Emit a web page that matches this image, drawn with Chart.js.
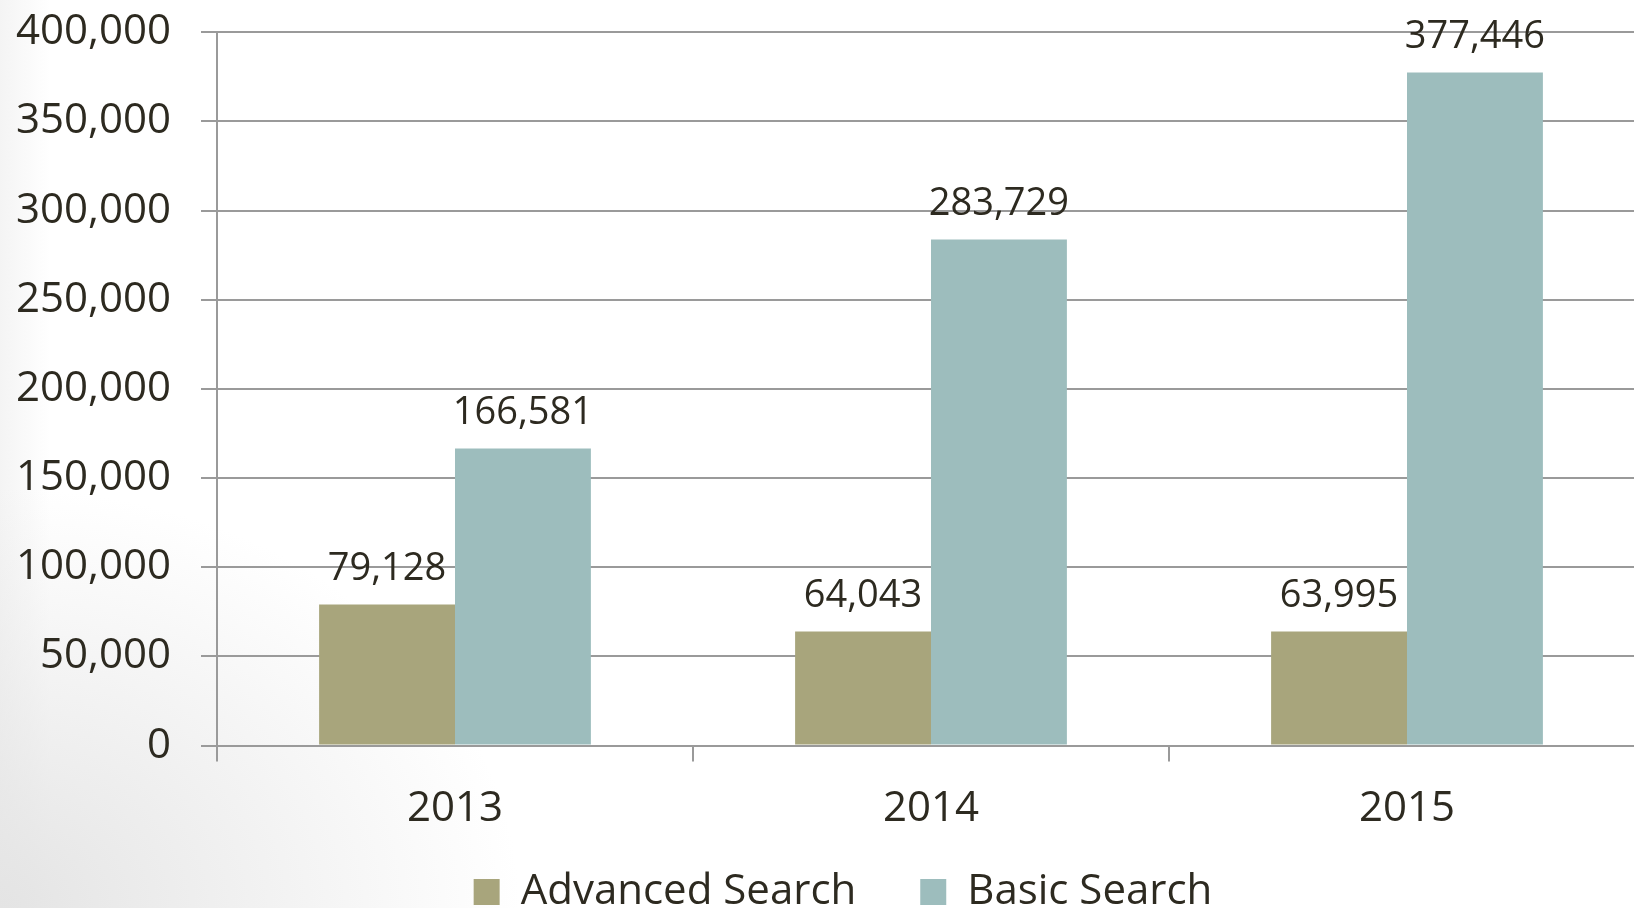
<!DOCTYPE html>
<html>
<head>
<meta charset="utf-8">
<script src="https://cdn.jsdelivr.net/npm/chart.js@4.4.0/dist/chart.umd.min.js"></script>
<style>
    html, body {
        margin: 0;
        padding: 0;
        width: 1634px;
        height: 908px;
        overflow: hidden;
        background:
            radial-gradient(ellipse 520px 420px at 0% 100%, #e4e4e4 0%, rgba(255,255,255,0) 100%),
            linear-gradient(90deg, #f4f4f4 0px, #ffffff 50px);
    }
    #wrap {
        position: absolute;
        left: 0;
        top: -23px;
        width: 1686px;
        height: 946px;
    }
</style>
</head>
<body>
<div id="wrap"><canvas id="busquedasChart"></canvas></div>
<script>
const years = ['2013', '2014', '2015'];
const advancedSearch = [79128, 64043, 63995];
const basicSearch = [166581, 283729, 377446];
const yTicks = [0, 50000, 100000, 150000, 200000, 250000, 300000, 350000, 400000];

const textColor = '#2d2a20';
const gridColor = '#9a9a9a';
const fontFamily = '"Open Sans", "Noto Sans", sans-serif';

const fmt = v => v.toLocaleString('en-US');

// etiquetas encima de cada barra
const barLabels = {
    id: 'barLabels',
    afterLayout(chart) {
        // que las etiquetas del eje y no se recorten por la izquierda
        chart.scales.y.left = 0;
    },
    afterDatasetsDraw(chart) {
        const ctx = chart.ctx;
        ctx.save();
        ctx.font = '38px ' + fontFamily;
        ctx.fillStyle = textColor;
        ctx.textAlign = 'center';
        ctx.textBaseline = 'middle';
        chart.data.datasets.forEach((ds, i) => {
            chart.getDatasetMeta(i).data.forEach((bar, j) => {
                ctx.fillText(fmt(ds.data[j]), bar.x, bar.y - 35);
            });
        });
        ctx.restore();
    }
};

const ctxBusquedas = document.getElementById('busquedasChart').getContext('2d');
const myChartBusquedas = new Chart(ctxBusquedas, {
    type: 'bar',
    data: {
        labels: years,
        datasets: [{
            label: 'Advanced Search',
            data: advancedSearch,
            backgroundColor: '#a8a57c'
        }, {
            label: 'Basic Search',
            data: basicSearch,
            backgroundColor: '#9dbdbd'
        }]
    },
    options: {
        responsive: true,
        maintainAspectRatio: false,
        animation: false,
        categoryPercentage: 0.571,
        barPercentage: 1,
        layout: { padding: { left: 41, right: 41, top: 0, bottom: 0 } },
        plugins: {
            tooltip: { enabled: false },
            legend: {
                position: 'bottom',
                labels: {
                    color: textColor,
                    boxWidth: 26,
                    boxHeight: 26,
                    padding: 15,
                    font: { family: fontFamily, size: 42 },
                    generateLabels: chart => {
                        const items = Chart.defaults.plugins.legend.labels.generateLabels(chart);
                        // hueco entre las dos entradas
                        items[0].text += '\u2003\u2009';
                        return items;
                    }
                }
            }
        },
        scales: {
            x: {
                grid: {
                    offset: true,
                    drawOnChartArea: false,
                    color: gridColor,
                    lineWidth: 2,
                    tickLength: 16
                },
                border: { color: gridColor, width: 2 },
                ticks: {
                    color: textColor,
                    padding: 22,
                    font: { family: fontFamily, size: 42 }
                }
            },
            y: {
                min: 0,
                max: 400000,
                afterBuildTicks: axis => {
                    axis.ticks = yTicks.map(v => ({ value: v }));
                },
                afterFit: scale => { scale.width = 176; },
                grid: {
                    color: gridColor,
                    lineWidth: 2,
                    tickLength: 16
                },
                border: { color: gridColor, width: 2 },
                ticks: {
                    color: textColor,
                    padding: 30,
                    font: { family: fontFamily, size: 42 },
                    callback: v => fmt(v)
                }
            }
        }
    },
    plugins: [barLabels]
});
</script>
</body>
</html>
